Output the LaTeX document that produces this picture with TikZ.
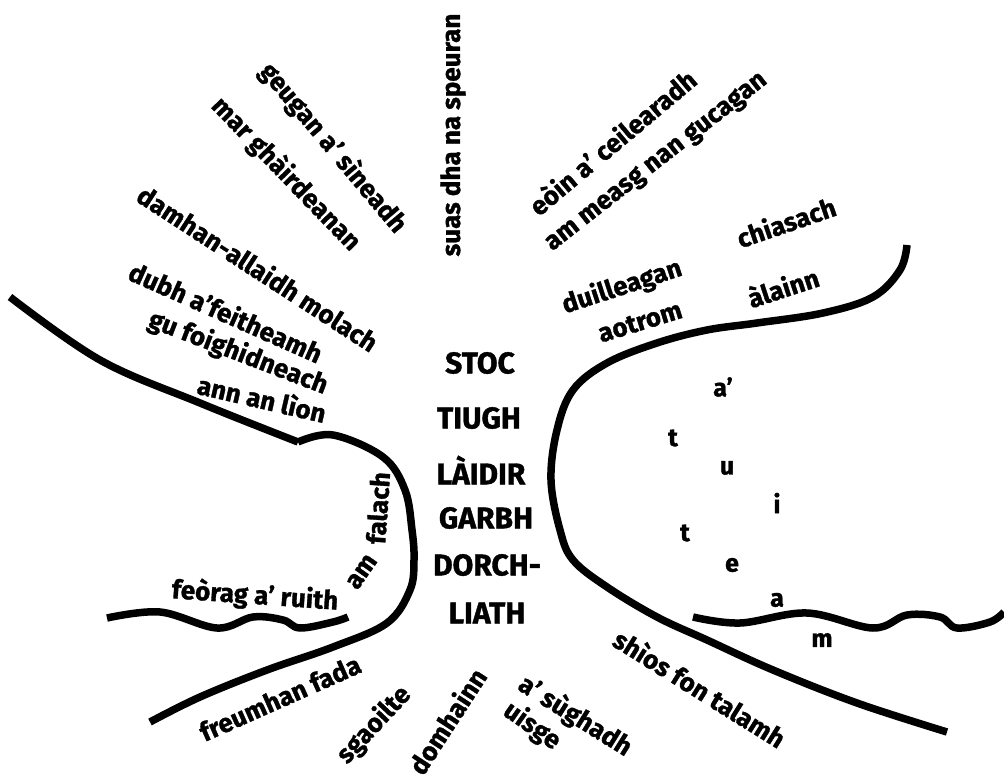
\documentclass[tikz,border=0pt]{standalone}
\usepackage{fontspec}
\setmainfont{Fira Sans}[BoldFeatures={FakeBold=1.2}]
\begin{document}
\begin{tikzpicture}[x=1pt,y=-1pt,
  word/.style={font=\fontsize{26}{30}\selectfont\bfseries, inner sep=0pt},
  capword/.style={font=\fontsize{30}{34}\selectfont\bfseries, inner sep=0pt},
  ltr/.style={font=\fontsize{25}{29}\selectfont\bfseries, inner sep=0pt},
  stroke/.style={line width=7.5pt, line join=round}]
\useasboundingbox[fill=white] (0,0) rectangle (1004,778);

% branches (upper left)
\node[word, rotate=90]  (w1) at (453,135) {suas dha na speuran};
\node[word, rotate=-50] (w2) at (333,148) {geugan a’ sìneadh};
\node[word, rotate=-46] (w3) at (286,174) {mar ghàirdeanan};
\node[word, rotate=-33] (w4) at (258,268) {damhan-allaidh molach};
\node[word, rotate=-24] (w5) at (226,312) {dubh a’feitheamh};
\node[word, rotate=-21] (w6) at (238,353) {gu foighidneach};
\node[word, rotate=-13] (w7) at (262,398) {ann an lìon};

% branches (upper right)
\node[word, rotate=40] (w8)  at (612,142) {eòin a’ ceilearadh};
\node[word, rotate=38] (w9)  at (657,163) {am measg nan gucagan};
\node[word, rotate=18] (w10) at (622,287) {duilleagan};
\node[word, rotate=17] (w11) at (640,322) {aotrom};
\node[word, rotate=19] (w12) at (786,222) {chiasach};
\node[word, rotate=18] (w13) at (783,287) {àlainn};

% trunk
\node[capword] (c1) at (480,363) {STOC};
\node[capword] (c2) at (479,418) {TIUGH};
\node[capword] (c3) at (481,470) {LÀIDIR};
\node[capword] (c4) at (486,518) {GARBH};
\node[capword] (c5) at (487,565) {DORCH-};
\node[capword] (c6) at (487,613) {LIATH};

% falling letters
\node[ltr] (l1) at (723,387) {a’};
\node[ltr] (l2) at (673,438) {t};
\node[ltr] (l3) at (727,468) {u};
\node[ltr] (l4) at (777,503) {i};
\node[ltr] (l5) at (685,533) {t};
\node[ltr] (l6) at (732,565) {e};
\node[ltr] (l7) at (777,600) {a};
\node[ltr] (l8) at (822,640) {m};

% squirrel
\node[word, rotate=-4] (s1) at (255,596) {feòrag a’ ruith};
\node[word, rotate=55] (s2) at (362,572) {am};
\node[word, rotate=86] (s3) at (378,508) {falach};

% roots
\node[word, rotate=24]  (r1) at (280,698) {freumhan fada};
\node[word, rotate=47]  (r2) at (374,725) {sgaoilte};
\node[word, rotate=57]  (r3) at (447,721) {domhainn};
\node[word, rotate=-32] (r4) at (575,716) {a’ sùghadh};
\node[word, rotate=-35] (r5) at (532,726) {uisge};
\node[word, rotate=-32] (r6) at (700,688) {shìos fon talamh};

% outlines
\draw[stroke] plot[smooth, tension=0.6] coordinates {(10,297) (100,360) (200,403) (298,442)};
\draw[stroke] plot[smooth, tension=0.6] coordinates {(298,442) (333,435) (383,457) (405,490) (412,530) (414,560) (410,590) (387,623) (333,647) (267,670) (200,697) (150,722)};
\draw[stroke] plot[smooth, tension=0.6] coordinates {(107,618) (160,612) (217,628) (253,617) (283,620) (300,628) (333,622) (348,617)};
\draw[stroke] plot[smooth, tension=0.6] coordinates {(907,245) (900,270) (873,297) (823,313) (757,323) (707,330) (657,343) (607,363) (573,390) (557,430) (551,480) (560,530) (573,560) (607,587) (657,617) (707,640) (773,670) (857,703) (947,732)};
\draw[stroke] plot[smooth, tension=0.6] coordinates {(693,617) (740,623) (807,613) (873,628) (907,615) (940,617) (957,628) (990,622) (1004,612)};
\end{tikzpicture}
\end{document}
